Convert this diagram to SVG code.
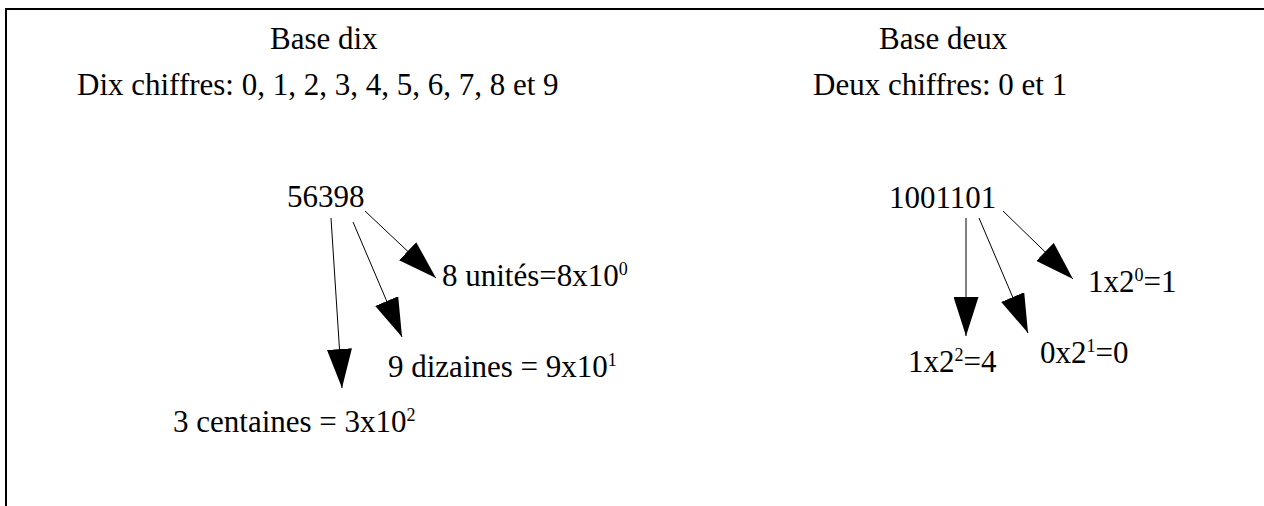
<svg xmlns="http://www.w3.org/2000/svg" width="1264" height="506" viewBox="0 0 1264 506">
<style>
text{font-family:'Liberation Serif','Times New Roman','DejaVu Serif',serif;font-size:31px;fill:#000}
.sup{font-size:18px}
.conn{stroke:#000;stroke-width:1;fill:none}
</style>
<defs>
<marker id="ah" viewBox="0 0 39 25" markerWidth="39" markerHeight="25" refX="39" refY="12.5" orient="auto" markerUnits="userSpaceOnUse">
<path d="M0,0 L39,12.5 L0,25 z" fill="#000"/>
</marker>
</defs>
<rect width="1264" height="506" fill="#fff"/>
<path d="M6,506 V9 H1264" stroke="#000" stroke-width="2" fill="none"/>
<g id="titles">
<text x="270" y="49">Base dix</text>
<text x="77" y="95">Dix chiffres: 0, 1, 2, 3, 4, 5, 6, 7, 8 et 9</text>
<text x="879" y="49">Base deux</text>
<text x="813" y="95">Deux chiffres: 0 et 1</text>
</g>
<g id="n56398"><text x="287" y="207">56398</text></g>
<g id="unites"><text x="442" y="286">8 unités=8x10<tspan class="sup" dy="-11">0</tspan></text></g>
<g id="dizaines"><text x="388" y="377">9 dizaines = 9x10<tspan class="sup" dy="-11">1</tspan></text></g>
<g id="centaines"><text x="173" y="432">3 centaines = 3x10<tspan class="sup" dy="-11">2</tspan></text></g>
<g id="n1001101"><text x="889" y="208">1001101</text></g>
<g id="b0"><text x="1088" y="292">1x2<tspan class="sup" dy="-11">0</tspan><tspan dy="11">=1</tspan></text></g>
<g id="b1"><text x="1040" y="363">0x2<tspan class="sup" dy="-11">1</tspan><tspan dy="11">=0</tspan></text></g>
<g id="b2"><text x="908" y="372">1x2<tspan class="sup" dy="-11">2</tspan><tspan dy="11">=4</tspan></text></g>
<g id="connectors">
<line class="conn" x1="331" y1="218" x2="342" y2="388" marker-end="url(#ah)"/>
<line class="conn" x1="353" y1="222" x2="402" y2="337" marker-end="url(#ah)"/>
<line class="conn" x1="365" y1="211" x2="436" y2="278" marker-end="url(#ah)"/>
<line class="conn" x1="966" y1="218" x2="966" y2="336" marker-end="url(#ah)"/>
<line class="conn" x1="979" y1="218" x2="1028" y2="333" marker-end="url(#ah)"/>
<line class="conn" x1="1003" y1="211" x2="1073" y2="279" marker-end="url(#ah)"/>
</g>
</svg>
